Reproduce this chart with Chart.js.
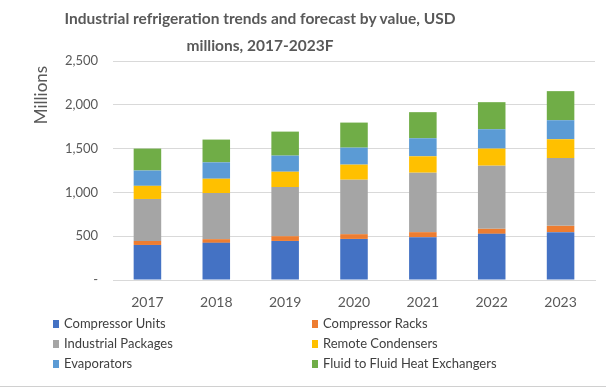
<!DOCTYPE html>
<html lang="en">
<head>
  <meta charset="UTF-8">
  <title>Industrial refrigeration trends</title>
  <script src="https://cdn.jsdelivr.net/npm/chart.js"></script>
  <style>
    body {
      margin: 0;
      background: #fff;
      font-family: Lato, 'Open Sans', sans-serif;
    }
    #wrap {
      position: relative;
      width: 606px;
      height: 389px;
      overflow: hidden;
    }
    #title {
      position: absolute;
      left: 0;
      top: 5px;
      width: 520px;
      text-align: center;
      font-weight: bold;
      font-size: 15.5px;
      line-height: 27px;
      color: #595959;
    }
    #legend {
      position: absolute;
      left: 53px;
      top: 313px;
      width: 540px;
      display: grid;
      grid-template-columns: 259px 270px;
      row-gap: 0;
      font-size: 13px;
      line-height: 20px;
      color: #404040;
    }
    #legend span.box {
      display: inline-block;
      width: 6px;
      height: 8px;
      margin-right: 5px;
    }
    #bottomline {
      position: absolute;
      left: 0;
      top: 386px;
      width: 606px;
      border-top: 1px solid #d0d0d0;
    }
  </style>
</head>
<body>
  <div id="wrap">
    <canvas id="chart" width="606" height="389"></canvas>
    <div id="title">Industrial refrigeration trends and forecast by value, USD<br>millions, 2017-2023F</div>
    <div id="legend"></div>
    <div id="bottomline"></div>
  </div>

  <script>
    const years = ['2017', '2018', '2019', '2020', '2021', '2022', '2023'];
    const compressorUnits = [400, 424, 446, 469, 488, 527, 546];
    const compressorRacks = [45, 42, 54, 54, 58, 57, 72];
    const industrialPackages = [480, 526, 561, 622, 679, 721, 775];
    const remoteCondensers = [150, 164, 175, 172, 187, 195, 214];
    const evaporators = [175, 187, 184, 194, 206, 221, 217];
    const fluidExchangers = [250, 260, 274, 286, 298, 309, 332];

    const series = [
      { label: 'Compressor Units', data: compressorUnits, color: '#4472c4' },
      { label: 'Compressor Racks', data: compressorRacks, color: '#ed7d31' },
      { label: 'Industrial Packages', data: industrialPackages, color: '#a5a5a5' },
      { label: 'Remote Condensers', data: remoteCondensers, color: '#ffc000' },
      { label: 'Evaporators', data: evaporators, color: '#5b9bd5' },
      { label: 'Fluid to Fluid Heat Exchangers', data: fluidExchangers, color: '#70ad47' }
    ];

    // legend in two columns, same order as the reference
    const legend = document.getElementById('legend');
    series.forEach(s => {
      const item = document.createElement('div');
      item.innerHTML = `<span class="box" style="background:${s.color}"></span>${s.label}`;
      legend.appendChild(item);
    });

    // rotated axis title near the top of the axis
    const axisTitle = {
      id: 'axisTitle',
      afterDraw(chart) {
        const ctx = chart.ctx;
        ctx.save();
        ctx.translate(42, 95);
        ctx.rotate(-Math.PI / 2);
        ctx.font = '17px Lato, sans-serif';
        ctx.fillStyle = '#595959';
        ctx.textAlign = 'center';
        ctx.textBaseline = 'middle';
        ctx.fillText('Millions', 0, 0);
        ctx.restore();
      }
    };

    new Chart(document.getElementById('chart'), {
      type: 'bar',
      data: {
        labels: years,
        datasets: series.map(s => ({
          label: s.label,
          data: s.data,
          backgroundColor: s.color,
          borderWidth: 0,
          barPercentage: 0.4,
          categoryPercentage: 1
        }))
      },
      options: {
        responsive: false,
        animation: false,
        layout: { padding: { top: 61, right: 11, bottom: 79, left: 0 } },
        plugins: {
          legend: { display: false },
          title: { display: false },
          tooltip: { enabled: false }
        },
        scales: {
          x: {
            stacked: true,
            grid: { display: false },
            border: { color: '#d9d9d9' },
            ticks: { color: '#595959', font: { family: 'Lato', size: 14 }, padding: 6 },
            afterFit: scale => { scale.height = 30; }
          },
          y: {
            stacked: true,
            min: 0,
            max: 2500,
            ticks: {
              stepSize: 500,
              color: '#595959',
              font: { family: 'Lato', size: 13 },
              padding: 15,
              callback: v => v === 0 ? '-' : v.toLocaleString('en-US')
            },
            grid: { color: '#d9d9d9', drawTicks: false },
            border: { display: false },
            afterFit: scale => { scale.width = 113; }
          }
        }
      },
      plugins: [axisTitle]
    });
  </script>
</body>
</html>
